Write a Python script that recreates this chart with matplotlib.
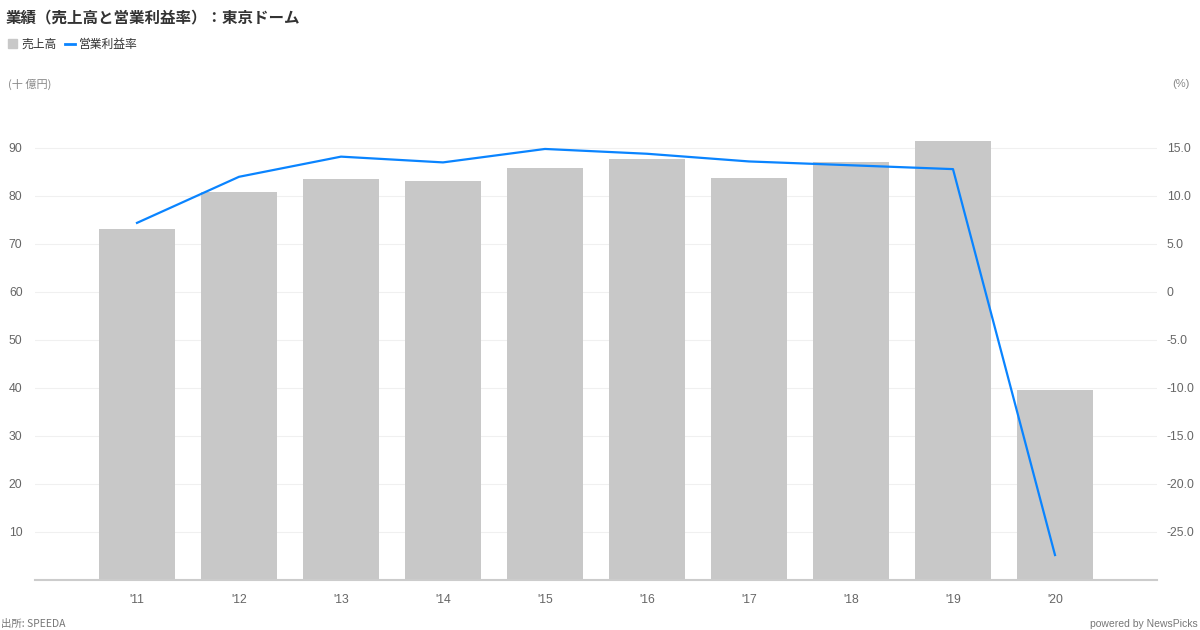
import matplotlib
matplotlib.use('Agg')
import matplotlib.pyplot as plt
from matplotlib.patches import Rectangle
from matplotlib.lines import Line2D

plt.rcParams['font.family'] = ['Liberation Sans', 'Noto Sans CJK JP', 'DejaVu Sans']
JP = ['Noto Sans CJK JP', 'Liberation Sans']

years = ["'11", "'12", "'13", "'14", "'15", "'16", "'17", "'18", "'19", "'20"]
sales = [73.1, 80.8, 83.5, 83.1, 85.8, 87.7, 83.7, 87.1, 91.5, 39.6]
margin = [7.2, 12.0, 14.1, 13.5, 14.9, 14.4, 13.6, 13.2, 12.8, -27.4]
left_ticks = [10, 20, 30, 40, 50, 60, 70, 80, 90]
right_ticks = [-25.0, -20.0, -15.0, -10.0, -5.0, 0, 5.0, 10.0, 15.0]

BAR = '#c8c8c8'
LINE = '#0a84ff'
GRAY = '#666666'

fig = plt.figure(figsize=(12, 6.3), dpi=100)
ax = fig.add_axes([35 / 1200, 1 - 580 / 630, 1122 / 1200, 480 / 630])
ax2 = ax.twinx()

x = list(range(len(years)))
ax.bar(x, sales, width=0.745, color=BAR, zorder=2)
ax.set_xlim(-1, 10)
ax.set_ylim(0, 100)
ax.set_yticks(left_ticks)
ax.set_yticklabels([str(v) for v in left_ticks])
ax.set_xticks(x)
ax.set_xticklabels(years)
ax.grid(axis='y', color='#f0f0f0', linewidth=0.8, zorder=0)
ax.set_axisbelow(True)

ax2.plot(x, margin, color=LINE, linewidth=1.6, zorder=3)
ax2.set_ylim(-30, 20)
ax2.set_yticks(right_ticks)
ax2.set_yticklabels(['%.1f' % v if v != 0 else '0' for v in right_ticks])

for a in (ax, ax2):
    for s in a.spines.values():
        s.set_visible(False)
    a.tick_params(length=0, colors=GRAY, labelsize=8.8)
ax.spines['bottom'].set_visible(True)
ax.spines['bottom'].set_color('#cccccc')
ax.spines['bottom'].set_linewidth(1.5)
ax.tick_params(axis='y', pad=9)
ax.tick_params(axis='x', pad=10)
ax2.tick_params(axis='y', pad=7)

fig.text(6 / 1200, 1 - 17 / 630, '業績（売上高と営業利益率）：東京ドーム', fontsize=11.2,
         fontweight='bold', color='#333333', va='center', family=JP)
fig.patches.append(Rectangle((8 / 1200, 1 - 48 / 630), 9 / 1200, 9 / 630,
                             transform=fig.transFigure, color=BAR))
fig.text(21 / 1200, 1 - 44 / 630, '売上高', fontsize=8.5, color='#333333', va='center', family=JP)
fig.lines.append(Line2D([65 / 1200, 75 / 1200], [1 - 44 / 630, 1 - 44 / 630],
                        transform=fig.transFigure, color=LINE, linewidth=2))
fig.text(79 / 1200, 1 - 44 / 630, '営業利益率', fontsize=8.5, color='#333333', va='center', family=JP)
fig.text(8 / 1200, 1 - 84 / 630, '(十 億円)', fontsize=8, color='#888888', va='center', family=JP)
fig.text(1190 / 1200, 1 - 84 / 630, '(%)', fontsize=8, color='#888888', va='center', ha='right')
fig.text(1 / 1200, 1 - 624 / 630, '出所: SPEEDA', fontsize=7.5, color='#777777', va='center', family=JP)
fig.text(1198 / 1200, 1 - 624 / 630, 'powered by NewsPicks', fontsize=7.5, color='#777777',
         va='center', ha='right')

fig.savefig('out.png', dpi=100)
